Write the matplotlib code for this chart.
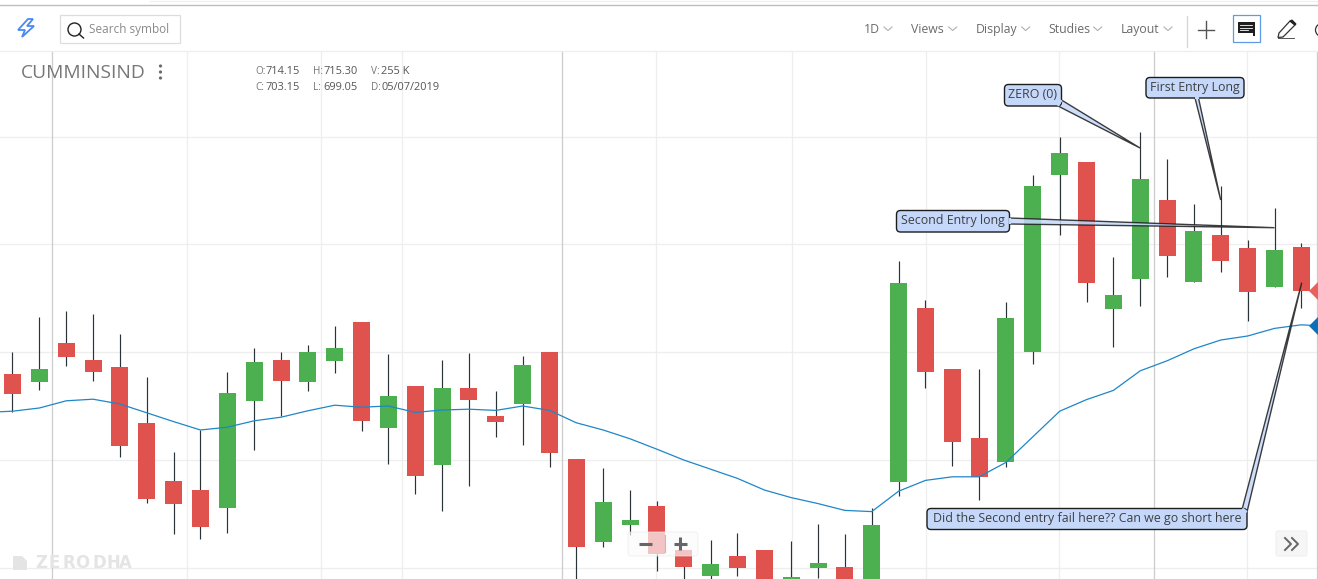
import matplotlib
matplotlib.use('Agg')
import matplotlib.pyplot as plt
from matplotlib.patches import FancyBboxPatch, Polygon, Circle, Rectangle

# Daily candles
opens = [682.5, 680.6, 690.2, 686, 684.2, 670.2, 655.8, 653.5, 649.1, 675.8,
         686, 680.6, 685.8, 695.5, 669.1, 679.5, 659.8, 679, 672, 675.1,
         688, 661.2, 640.6, 644.8, 649.5, 638.5, 632.1, 637, 638.5, 630.8,
         634.1, 634.2, 628.5, 655.6, 699, 683.8, 666.5, 660.6, 688.1, 732.3,
         735.5, 698.8, 706.3, 726, 705.6, 717.2, 714, 704.3, 714.15]
highs = [688, 696.8, 698.2, 697.5, 692.5, 681.8, 663, 668.5, 683, 689,
         688, 689.8, 694.5, 695.5, 687.5, 679.5, 686, 687.8, 678.2, 687,
         688, 661.2, 659, 653.5, 650.8, 638.5, 641, 642.8, 638.5, 640.8,
         645, 642.5, 649, 710.8, 701, 683.8, 683.8, 700.5, 732.2, 741.8,
         735.5, 711.8, 743, 736.2, 725, 729.5, 716, 724, 715.30]
lows = [673.1, 678.6, 684.6, 680.8, 661.8, 650.3, 642.6, 641.3, 642.8, 663.6,
        672, 678.3, 682.8, 668.3, 660.1, 652.6, 648.3, 654.6, 666.8, 664.8,
        659.3, 626, 639.3, 642.2, 633.3, 628.5, 630.5, 632.1, 627.2, 628.5,
        631.6, 628.5, 626, 652.1, 679.1, 659.6, 651.1, 659.2, 685, 717.3,
        700.6, 689.3, 699.6, 706.8, 705.6, 708.1, 695.8, 704.3, 699.05]
closes = [677.6, 683.8, 686.8, 683.1, 664.6, 651.3, 650.1, 644.3, 677.8, 685.5,
          680.8, 688, 689, 670.8, 677, 657.1, 679, 676.1, 670.6, 684.8,
          662.8, 639.3, 650.5, 646, 637.6, 634.3, 635, 634.1, 628.5, 631.8,
          635.2, 629.8, 644.8, 705.2, 683.1, 665.6, 656.8, 696.5, 729.5, 737.8,
          705.3, 702.2, 731.2, 712.1, 718.2, 710.8, 703.1, 713.5, 703.15]

# Moving average, starts one bar before the first visible candle and runs one past the last
sma = [672.9, 673.2, 674, 675.8, 676.2, 675, 672.8, 670.6, 668.5, 669.2, 670.8,
       671.7, 673.3, 674.7, 674.2, 674.5, 672.9, 673.5, 673.7, 673.4, 674.5,
       673.4, 670.3, 668.5, 666.3, 663.7, 661, 658.7, 656.4, 653.5, 651.6,
       650.1, 648.4, 648.1, 653.2, 655.9, 656.8, 656.8, 660.4, 666.8, 673.2,
       676.1, 678.4, 683.3, 685.8, 688.8, 691, 692, 693.9, 694.8, 694.4]

price_grid = [741.75, 714.9, 688, 661, 634]
light_vgrid = [6.49, 11.5, 14.5, 23.98, 29.02, 34.01, 38.99, 45.99]
dark_vgrid = [1.48, 20.48, 42.5, 48.57]

ohlc_labels = [('O:', '714.15', 'H:', '715.30', 'V:', '255 K'),
               ('C:', '703.15', 'L:', '699.05', 'D:', '05/07/2019')]
menu_items = ['1D', 'Views', 'Display', 'Studies', 'Layout']

RED = '#e0524e'
GREEN = '#4caf50'
WICK = '#2a3338'
CALLOUT = '#c6d8fa'
TEXT = '#555555'

plt.rcParams['font.family'] = ['Open Sans', 'DejaVu Sans']


def px(n):
    """Pixels to font points at dpi 100"""
    return n * 0.72


def draw_chart(fig):
    ax = fig.add_axes([0, 0, 1, (579 - 51) / 579])
    ax.set_xlim(-0.4655, 48.62)
    ax.set_ylim(631.25, 763.25)
    ax.axis('off')

    # Grid
    ax.hlines(price_grid, -1, 50, color='#eeeeee', lw=0.9, zorder=1)
    ax.vlines(light_vgrid, 600, 800, color='#eeeeee', lw=0.9, zorder=1)
    ax.vlines(dark_vgrid, 600, 800, color='#cccccc', lw=0.9, zorder=1)

    # Candles
    xs = list(range(len(opens)))
    colors = [GREEN if c >= o else RED for o, c in zip(opens, closes)]
    ax.vlines(xs, lows, highs, color=WICK, lw=0.85, zorder=2)
    ax.bar(xs, [abs(c - o) for o, c in zip(opens, closes)],
           bottom=[min(o, c) for o, c in zip(opens, closes)],
           width=0.633, color=colors, zorder=3)

    # Moving average
    ax.plot(range(-1, len(sma) - 1), sma, color='#1f86c8', lw=0.9, zorder=4)

    # Last price / average markers on the right edge
    ax.plot([48.62], [closes[-1]], marker='D', ms=9, color='#e8615c', mew=0, zorder=5, clip_on=True)
    ax.plot([48.62], [sma[-1]], marker='D', ms=9, color='#0d6fb8', mew=0, zorder=5, clip_on=True)
    return ax


def callout(ui, box, base1, base2, tip, label, size=12.45):
    """Rounded label with a wedge pointing at a candle"""
    x0, y0, x1, y1 = box
    ui.add_patch(Polygon([base1, tip, base2], closed=True, fc=CALLOUT, ec='#1c1c1c', lw=1.0,
                         alpha=0.85, joinstyle='miter', zorder=6))
    ui.add_patch(FancyBboxPatch((x0 + 4, y0 + 4), x1 - x0 - 8, y1 - y0 - 8,
                                boxstyle='round,pad=4,rounding_size=4',
                                fc=CALLOUT, ec='#1c1c1c', lw=1.0, zorder=7))
    ui.plot([base1[0], base2[0]], [base1[1], base2[1]], color=CALLOUT, lw=1.6,
            solid_capstyle='butt', zorder=8)
    ui.text((x0 + x1) / 2, (y0 + y1) / 2 - 0.5, label, fontsize=px(size), color='#3c4043',
            ha='center', va='center', zorder=9)


def draw_toolbar(ui):
    # Top rule and toolbar bottom rule
    ui.plot([0, 1318], [5, 5], color='#bdbdbd', lw=1.0)
    ui.plot([150, 1318], [0.5, 0.5], color='#f0f0f0', lw=1.0)
    ui.plot([0, 1318], [50.5, 50.5], color='#eeeeee', lw=0.9)

    # Bolt logo
    bolt = [(28, 19), (18, 30), (25, 30), (22, 37), (34, 26), (27, 26), (33, 19)]
    ui.add_patch(Polygon(bolt, closed=True, fc='white', ec='#4a8bf0', lw=1.3))

    # Search box
    ui.add_patch(Rectangle((60, 15), 119.5, 27.5, fc='white', ec='#dddddd', lw=0.9))
    ui.add_patch(Circle((74.5, 29.5), 6.5, fc='none', ec='#222222', lw=1.0))
    ui.plot([79, 83.5], [34, 38], color='#222222', lw=1.0)
    ui.text(89, 30, 'Search symbol', fontsize=px(11.7), color='#8a8a8a', va='center')

    # Menus
    menu_x = [864, 911, 976, 1048, 1121]
    chevron_x = [888, 952.7, 1025.7, 1097.7, 1168]
    for label, x, cx in zip(menu_items, menu_x, chevron_x):
        ui.text(x, 29.3, label, fontsize=px(12.2), color='#6b6b6b', va='center')
        ui.plot([cx - 4, cx, cx + 4], [27, 30.5, 27], color='#b0b0b0', lw=0.8)
    ui.plot([1186.5, 1186.5], [16, 47], color='#d5d5d5', lw=0.9)

    # Plus
    ui.plot([1198, 1214], [29.5, 29.5], color='#555555', lw=1.0)
    ui.plot([1206, 1206], [21, 38], color='#555555', lw=1.0)

    # Comment button
    ui.add_patch(Rectangle((1233, 15), 26.5, 26.5, fc='white', ec='#5b9bea', lw=0.9))
    ui.add_patch(Polygon([(1238, 22), (1255, 22), (1255, 36), (1253, 36), (1253, 33), (1238, 33)],
                         closed=True, fc='#1f1f1f', ec='none'))
    for y, end in [(25, 1252), (27.5, 1252), (30, 1248)]:
        ui.plot([1240, end], [y, y], color='white', lw=0.6)

    # Pencil
    pencil = [(1279, 33), (1290, 21), (1295, 25), (1283, 37), (1278, 37.5)]
    ui.add_patch(Polygon(pencil, closed=True, fc='white', ec='#333333', lw=0.9))
    ui.add_patch(Polygon([(1290, 21), (1292, 20), (1296, 24), (1295, 25)], closed=True, fc='#222222', ec='#222222', lw=0.8))
    ui.plot([1278, 1294], [37.8, 37.8], color='#555555', lw=0.7)

    # Cut off icon on the right edge
    ui.add_patch(Circle((1322, 30), 6.5, fc='none', ec='#333333', lw=0.9))


def draw_header(ui):
    ui.text(20.5, 72.5, 'CUMMINSIND', fontsize=px(19.3), color='#777777', va='center')
    for y in [66, 72, 78]:
        ui.add_patch(Circle((160.5, y), 1.6, fc='#6a6a6a', ec='none'))

    xs = [255, 265.5, 313, 323.5, 371, 381]
    for y, row in zip([71, 87.6], ohlc_labels):
        for i, (x, s) in enumerate(zip(xs, row)):
            is_key = i % 2 == 0
            ui.text(x, y, s, fontsize=px(10 if is_key else 11), color='#777777' if is_key else TEXT, va='center')


def draw_overlays(ui):
    # Watermark, letters placed one by one because of the wide tracking
    ui.add_patch(Polygon([(13, 556), (22, 556), (27, 561), (27, 570), (13, 570)], closed=True, fc='#e4e4e4', ec='none'))
    for ch, x in zip('ZERODHA', [35, 49, 62, 75.5, 92, 106, 118.5]):
        ui.text(x, 563, ch, fontsize=px(16.5), color='#e4e4e4', fontweight='bold',
                family='DejaVu Sans', va='center')

    # Zoom control
    ui.add_patch(FancyBboxPatch((631, 535), 64, 18, boxstyle='round,pad=3,rounding_size=3',
                                fc='#fbfbfb', ec='#ececec', lw=0.7, alpha=0.68, zorder=10))
    ui.plot([639, 652], [543.5, 543.5], color='#666666', lw=2.2, solid_capstyle='butt', zorder=11)
    ui.plot([673.5, 687], [543.5, 543.5], color='#666666', lw=2.2, solid_capstyle='butt', zorder=11)
    ui.plot([680.3, 680.3], [537, 550], color='#666666', lw=2.2, solid_capstyle='butt', zorder=11)
    ui.plot([664.5, 664.5], [535, 552], color='#bdbdbd', lw=0.8, zorder=11)

    # Expand button
    ui.add_patch(FancyBboxPatch((1278, 533), 27, 21, boxstyle='round,pad=2,rounding_size=2',
                                fc='#f6f6f6', ec='#eeeeee', lw=0.7, zorder=10))
    for dx in [0, 7]:
        ui.plot([1285 + dx, 1291 + dx, 1285 + dx], [538, 544, 550], color='#666666', lw=1.4, zorder=11)

    # Callouts
    callout(ui, (1004.5, 84.5, 1061.5, 106), (1058, 106), (1061.5, 100), (1140, 148), 'ZERO (0)')
    callout(ui, (1146, 77.5, 1244, 98), (1195, 98), (1198.5, 98), (1220.7, 200), 'First Entry Long')
    callout(ui, (896.5, 210.5, 1009.5, 232), (1009.5, 218), (1009.5, 224), (1274.5, 227.7), 'Second Entry long')
    callout(ui, (927, 508.5, 1247, 529.5), (1242.3, 508.5), (1247, 512), (1301.7, 282.7),
            'Did the Second entry fail here?? Can we go short here')


def main():
    fig = plt.figure(figsize=(13.18, 5.79), dpi=100, facecolor='white')
    draw_chart(fig)

    # Overlay axes in image pixels for the toolbar and drawing tools
    ui = fig.add_axes([0, 0, 1, 1], zorder=5)
    ui.set_xlim(0, 1318)
    ui.set_ylim(579, 0)
    ui.axis('off')
    ui.patch.set_alpha(0)

    draw_toolbar(ui)
    draw_header(ui)
    draw_overlays(ui)

    fig.savefig('out.png', dpi=100)


if __name__ == "__main__":
    main()
